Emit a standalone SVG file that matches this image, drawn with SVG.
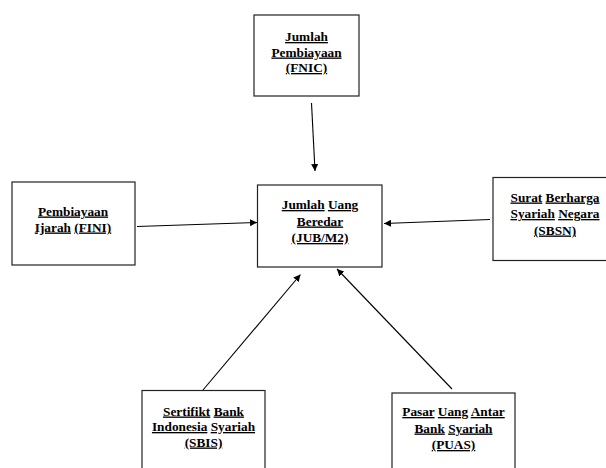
<svg xmlns="http://www.w3.org/2000/svg" width="606" height="468" viewBox="0 0 606 468">
<defs>
<marker id="ah" viewBox="0 0 10 10" refX="10" refY="5" markerWidth="7" markerHeight="7" markerUnits="userSpaceOnUse" orient="auto">
<path d="M0,0 L10,5 L0,10 z" fill="#000"/>
</marker>
<style>
.box{fill:#fff;stroke:#222;stroke-width:1.2}
.t{font-family:"Liberation Serif","Times New Roman",serif;font-size:13.3px;font-weight:bold;fill:#000;text-anchor:middle}
.u{text-decoration:underline}
.c{stroke:#000;stroke-width:1.1;fill:none;marker-end:url(#ah)}
</style>
</defs>
<rect width="606" height="468" fill="#fff"/>
<g id="connectors">
<line class="c" x1="311.5" y1="103" x2="315" y2="171"/>
<line class="c" x1="137" y1="226.5" x2="257" y2="222.5"/>
<line class="c" x1="490" y1="219.5" x2="384" y2="223.5"/>
<line class="c" x1="203" y1="390" x2="300.5" y2="274.5"/>
<line class="c" x1="452" y1="389" x2="337" y2="269"/>
</g>
<g id="node-fnic">
<rect class="box" x="254" y="15" width="105" height="81"/>
<text class="t" x="306.5" y="41"><tspan class="u">Jumlah</tspan></text>
<text class="t" x="306.5" y="56.5"><tspan class="u">Pembiayaan</tspan></text>
<text class="t" x="306.5" y="72"><tspan class="u">(FNIC)</tspan></text>
</g>
<g id="node-fini">
<rect class="box" x="12" y="182" width="123" height="83"/>
<text class="t" x="73" y="215.5"><tspan class="u">Pembiayaan</tspan></text>
<text class="t" x="73" y="231.5"><tspan class="u">Ijarah</tspan> <tspan class="u">(FINI)</tspan></text>
</g>
<g id="node-jub">
<rect class="box" x="257.5" y="185" width="124.5" height="82"/>
<text class="t" x="320" y="209"><tspan class="u">Jumlah</tspan> <tspan class="u">Uang</tspan></text>
<text class="t" x="320" y="225.5"><tspan class="u">Beredar</tspan></text>
<text class="t" x="320" y="242"><tspan class="u">(JUB/M2)</tspan></text>
</g>
<g id="node-sbsn">
<rect class="box" x="493" y="177.5" width="130" height="83"/>
<text class="t" x="555" y="201.5"><tspan class="u">Surat</tspan> <tspan class="u">Berharga</tspan></text>
<text class="t" x="555" y="218"><tspan class="u">Syariah</tspan> <tspan class="u">Negara</tspan></text>
<text class="t" x="555" y="234.5"><tspan class="u">(SBSN)</tspan></text>
</g>
<g id="node-sbis">
<rect class="box" x="142" y="390.5" width="123" height="95"/>
<text class="t" x="203.5" y="415.5"><tspan class="u">Sertifikt</tspan> <tspan class="u">Bank</tspan></text>
<text class="t" x="203.5" y="431"><tspan class="u">Indonesia</tspan> <tspan class="u">Syariah</tspan></text>
<text class="t" x="203.5" y="446.5"><tspan class="u">(SBIS)</tspan></text>
</g>
<g id="node-puas">
<rect class="box" x="392" y="393" width="123" height="95"/>
<text class="t" x="453.5" y="416"><tspan class="u">Pasar</tspan> <tspan class="u">Uang</tspan> <tspan class="u">Antar</tspan></text>
<text class="t" x="453.5" y="432.5"><tspan class="u">Bank</tspan> <tspan class="u">Syariah</tspan></text>
<text class="t" x="453.5" y="449"><tspan class="u">(PUAS)</tspan></text>
</g>
</svg>
